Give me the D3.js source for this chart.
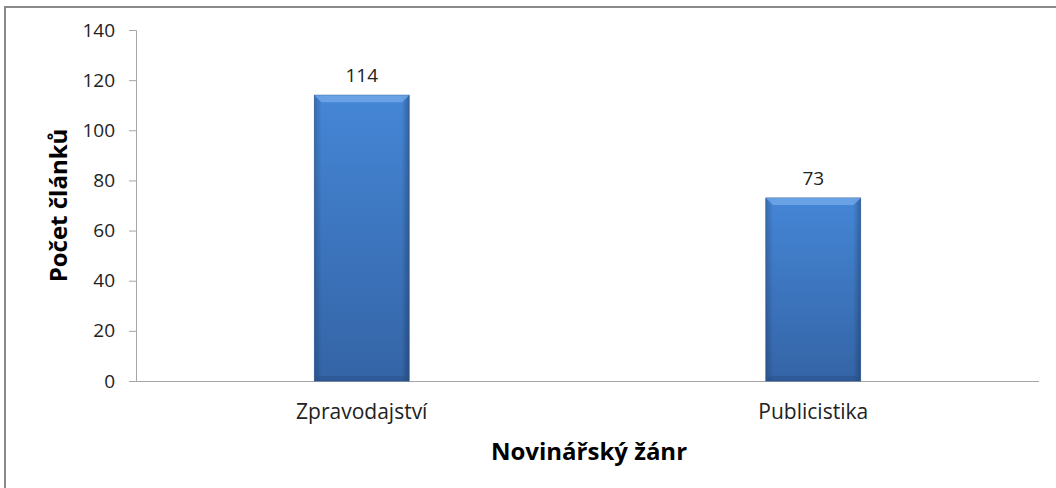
<!DOCTYPE html>
<html>
<head>
<meta charset="utf-8">
<script src="https://cdn.jsdelivr.net/npm/d3@7"></script>
<style>
  body { margin: 0; background: #fff; }
  text { font-family: "Open Sans", "DejaVu Sans", sans-serif; }
</style>
</head>
<body>
<svg id="chart" width="1056" height="488"></svg>
<script>
const categories = ['Zpravodajství', 'Publicistika'];
const counts = [114, 73];
const yTicks = [0, 20, 40, 60, 80, 100, 120, 140];

const svg = d3.select('#chart');
const width = +svg.attr('width');
const height = +svg.attr('height');
const margin = {top: 30, right: 17, bottom: 107, left: 136};
const innerWidth = width - margin.left - margin.right;
const innerHeight = height - margin.top - margin.bottom;

// outer frame of the chart area (runs off the right and bottom edges)
svg.append('rect')
  .attr('x', 5).attr('y', 7)
  .attr('width', 1060).attr('height', 500)
  .attr('fill', '#fff')
  .attr('stroke', '#898989')
  .attr('stroke-width', 2);

const defs = svg.append('defs');
const grad = defs.append('linearGradient')
  .attr('id', 'barGrad').attr('x1', 0).attr('y1', 0).attr('x2', 0).attr('y2', 1);
grad.append('stop').attr('offset', '0%').attr('stop-color', '#4586d6');
grad.append('stop').attr('offset', '100%').attr('stop-color', '#3464a6');
const side = defs.append('linearGradient')
  .attr('id', 'sideGrad').attr('x1', 0).attr('y1', 0).attr('x2', 1).attr('y2', 0);
side.append('stop').attr('offset', '0%').attr('stop-color', '#000').attr('stop-opacity', 0.18);
side.append('stop').attr('offset', '8%').attr('stop-color', '#000').attr('stop-opacity', 0);
side.append('stop').attr('offset', '92%').attr('stop-color', '#000').attr('stop-opacity', 0);
side.append('stop').attr('offset', '100%').attr('stop-color', '#000').attr('stop-opacity', 0.25);

const g = svg.append('g')
  .attr('transform', `translate(${margin.left}, ${margin.top})`);

const xScale = d3.scaleBand()
  .domain(categories)
  .range([0, innerWidth])
  .paddingInner(0.79)
  .paddingOuter(0.395);
const yScale = d3.scaleLinear()
  .domain([0, 140])
  .range([innerHeight, 0]);

// y axis
const yAxis = d3.axisLeft(yScale).tickValues(yTicks).tickSize(7).tickPadding(14);
const yAxisG = g.append('g').call(yAxis).attr('font-size', 19);
yAxisG.select('.domain').attr('stroke', '#a6a6a6').attr('d', `M-7,0.5H0.5V${innerHeight}`);
yAxisG.selectAll('.tick line').attr('stroke', '#a6a6a6');
yAxisG.selectAll('.tick text')
  .style('font-size', '19px')
  .style('font-family', '"Open Sans", "DejaVu Sans", sans-serif')
  .attr('fill', '#222');

// x axis
const xAxis = d3.axisBottom(xScale).tickSize(0).tickPadding(23);
const xAxisG = g.append('g')
  .attr('transform', `translate(0, ${innerHeight})`)
  .call(xAxis)
  .attr('font-size', 21);
xAxisG.select('.domain').attr('stroke', '#a6a6a6').attr('d', `M0,0.5H${innerWidth}`);
xAxisG.selectAll('.tick text')
  .style('font-size', '21px')
  .style('font-family', '"Open Sans", "DejaVu Sans", sans-serif')
  .attr('fill', '#222');

// bars
const bars = g.selectAll('.bar').data(categories).enter().append('g').attr('class', 'bar');
bars.append('rect')
  .attr('x', d => xScale(d))
  .attr('y', (d, i) => yScale(counts[i]))
  .attr('width', xScale.bandwidth())
  .attr('height', (d, i) => innerHeight - yScale(counts[i]))
  .attr('fill', 'url(#barGrad)');
bars.append('rect')
  .attr('x', d => xScale(d))
  .attr('y', (d, i) => yScale(counts[i]))
  .attr('width', xScale.bandwidth())
  .attr('height', (d, i) => innerHeight - yScale(counts[i]))
  .attr('fill', 'url(#sideGrad)')
  .attr('stroke', '#2d5a96')
  .attr('stroke-width', 0.8);
// top bevel highlight
bars.append('path')
  .attr('d', (d, i) => {
    const x0 = xScale(d), x1 = x0 + xScale.bandwidth(), y0 = yScale(counts[i]);
    return `M${x0},${y0}H${x1}L${x1 - 7},${y0 + 7}H${x0 + 7}Z`;
  })
  .attr('fill', '#6fa6e6')
  .attr('opacity', 0.85);
// bottom bevel shade
bars.append('path')
  .attr('d', (d, i) => {
    const x0 = xScale(d), x1 = x0 + xScale.bandwidth(), y1 = innerHeight;
    return `M${x0},${y1}H${x1}L${x1 - 5},${y1 - 5}H${x0 + 5}Z`;
  })
  .attr('fill', '#24497c')
  .attr('opacity', 0.35);

// value labels
g.selectAll('.datatext').data(categories).enter().append('text')
  .attr('class', 'datatext')
  .attr('x', d => xScale(d) + xScale.bandwidth() / 2)
  .attr('y', (d, i) => yScale(counts[i]) - 13)
  .attr('text-anchor', 'middle')
  .attr('font-size', '19px')
  .attr('fill', '#222')
  .text((d, i) => counts[i]);

// axis titles
svg.append('text')
  .attr('x', 589)
  .attr('y', 460)
  .attr('text-anchor', 'middle')
  .attr('font-size', '24px')
  .attr('font-weight', 'bold')
  .attr('fill', '#000')
  .text('Novinářský žánr');

svg.append('text')
  .attr('transform', `translate(67, ${margin.top + innerHeight / 2}) rotate(-90)`)
  .attr('text-anchor', 'middle')
  .attr('font-size', '24px')
  .attr('font-weight', 'bold')
  .attr('fill', '#000')
  .text('Počet článků');
</script>
</body>
</html>
